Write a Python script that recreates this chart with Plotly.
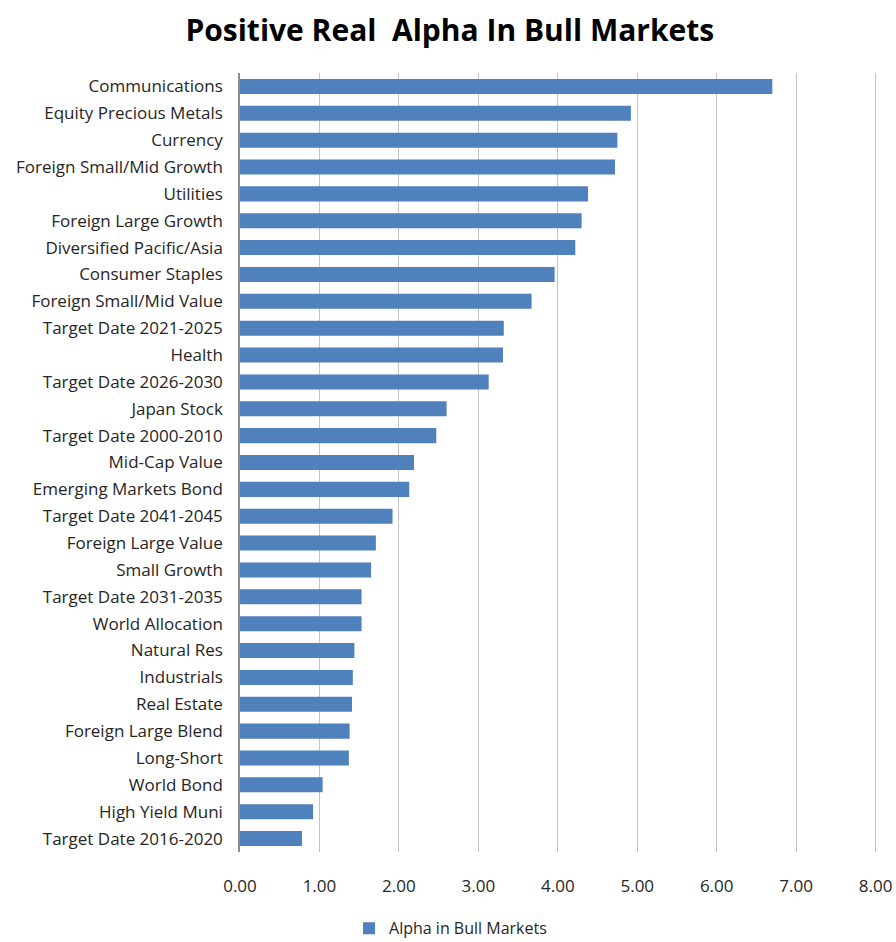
import plotly.graph_objects as go

# Fund categories, top to bottom, with their bull-market alpha
categories = [
    "Communications", "Equity Precious Metals", "Currency", "Foreign Small/Mid Growth",
    "Utilities", "Foreign Large Growth", "Diversified Pacific/Asia", "Consumer Staples",
    "Foreign Small/Mid Value", "Target Date 2021-2025", "Health", "Target Date 2026-2030",
    "Japan Stock", "Target Date 2000-2010", "Mid-Cap Value", "Emerging Markets Bond",
    "Target Date 2041-2045", "Foreign Large Value", "Small Growth", "Target Date 2031-2035",
    "World Allocation", "Natural Res", "Industrials", "Real Estate", "Foreign Large Blend",
    "Long-Short", "World Bond", "High Yield Muni", "Target Date 2016-2020",
]
alpha = [
    6.70, 4.92, 4.75, 4.72, 4.38, 4.30, 4.22, 3.96, 3.67, 3.32, 3.31, 3.13,
    2.60, 2.47, 2.19, 2.13, 1.92, 1.71, 1.65, 1.53, 1.53, 1.44, 1.42, 1.41,
    1.38, 1.37, 1.04, 0.92, 0.78,
]
x_ticks = [0, 1, 2, 3, 4, 5, 6, 7, 8]
x_range = [0, 8.03]

FONT = "Open Sans"
TEXT = "#262626"

fig = go.Figure(
    go.Bar(
        x=alpha,
        y=categories,
        orientation="h",
        name="Alpha in Bull Markets",
        marker=dict(color="#4F81BD", line=dict(width=0)),
    )
)

fig.update_layout(
    width=896,
    height=942,
    paper_bgcolor="white",
    plot_bgcolor="white",
    margin=dict(l=240, r=18, t=73, b=90, autoexpand=False),
    bargap=0.44,
    font=dict(family=FONT, size=17, color=TEXT),
    title=dict(
        text="<b>Positive Real  Alpha In Bull Markets</b>",
        x=0.502,
        xanchor="center",
        y=0.968,
        yanchor="middle",
        font=dict(family=FONT, size=30, color="#000000"),
    ),
    showlegend=True,
    legend=dict(
        orientation="h",
        x=0.33,
        xanchor="center",
        y=-0.098,
        yanchor="middle",
        itemwidth=30,
        font=dict(family=FONT, size=16, color=TEXT),
    ),
    xaxis=dict(
        range=x_range,
        tickvals=x_ticks,
        tickformat=".2f",
        showgrid=True,
        gridcolor="#C4C4C4",
        gridwidth=1.2,
        zeroline=False,
        showline=False,
        ticks="",
        ticklabelstandoff=22,
        tickfont=dict(family=FONT, size=17, color=TEXT),
    ),
    # overlay axis used only to draw the darker gridline at 5.00
    xaxis2=dict(
        overlaying="x",
        anchor="y",
        side="bottom",
        range=x_range,
        tickvals=[5],
        showticklabels=False,
        showgrid=True,
        gridcolor="#8C8C8C",
        gridwidth=1.5,
        zeroline=False,
        showline=False,
        ticks="",
    ),
    yaxis=dict(
        categoryorder="array",
        categoryarray=categories,
        autorange="reversed",
        showgrid=False,
        showline=True,
        linecolor="#8C8C8C",
        linewidth=1.5,
        ticks="",
        ticklabelstandoff=12,
        tickfont=dict(family=FONT, size=17, color=TEXT),
    ),
)

fig.write_html("out.html")
